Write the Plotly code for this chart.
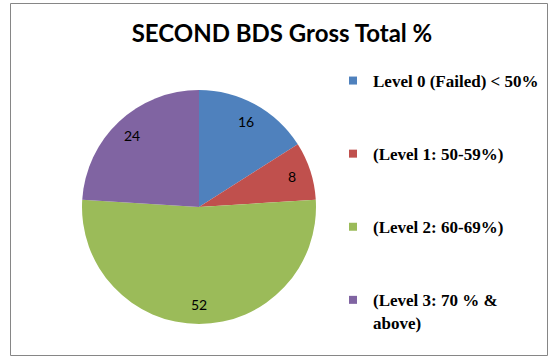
import math
import plotly.graph_objects as go

categories = ["Level 0 (Failed) < 50%", "(Level 1: 50-59%)", "(Level 2: 60-69%)", "(Level 3: 70 % &<br>above)"]
values = [16, 8, 52, 24]
colors = ["#4F81BD", "#C0504D", "#9BBB59", "#8064A2"]
title_text = "SECOND BDS Gross Total %"

W, H = 553, 358
# pie geometry (pixels)
CX, CY, R = 199, 207, 117
LABEL_R = 0.835

fig = go.Figure()
fig.add_trace(go.Pie(
    labels=categories, values=values, sort=False, direction="clockwise", rotation=0,
    marker=dict(colors=colors, line=dict(width=0)),
    textinfo="none",
    domain=dict(x=[(CX - R) / W, (CX + R) / W], y=[1 - (CY + R) / H, 1 - (CY - R) / H]),
    showlegend=False, hoverinfo="label+value",
))
for i, (c, col) in enumerate(zip(categories, colors)):
    fig.add_trace(go.Scatter(
        x=[None], y=[None], mode="markers", name=f"<b>{c}</b>", legendgroup=f"g{i}",
        marker=dict(symbol="square", size=8, color=col),
    ))

# value labels placed on each slice's mid-angle
total = sum(values)
annotations = []
cum = 0
for v in values:
    th = 2 * math.pi * (cum + v / 2) / total
    cum += v
    px = CX + LABEL_R * R * math.sin(th)
    py = CY - LABEL_R * R * math.cos(th)
    annotations.append(dict(x=px / W, y=1 - py / H, xref="paper", yref="paper", text=str(v),
                            showarrow=False, xanchor="center", yanchor="middle",
                            font=dict(family="Lato", size=14, color="#000000")))

fig.update_layout(
    width=W, height=H, margin=dict(l=0, r=0, t=0, b=0),
    paper_bgcolor="white", plot_bgcolor="white",
    xaxis=dict(visible=False), yaxis=dict(visible=False),
    title=dict(text=f"<b>{title_text}</b>", x=282 / W, xanchor="center", y=1 - 34 / H, yanchor="middle",
               font=dict(family="Lato", size=24, color="#000000")),
    legend=dict(x=333 / W, xanchor="left", y=1 - 63 / H, yanchor="top", valign="top",
                tracegroupgap=48, bgcolor="rgba(0,0,0,0)",
                font=dict(family="Liberation Serif", size=17, color="#000000")),
    annotations=annotations,
    shapes=[dict(type="rect", xref="paper", yref="paper", x0=10.5 / W, x1=547.5 / W,
                 y0=1 - 355.5 / H, y1=1 - 3.5 / H, line=dict(color="#868686", width=1))],
)
fig.write_html("out.html", config={"displayModeBar": False},
               post_script="document.body.style.margin='0';")
